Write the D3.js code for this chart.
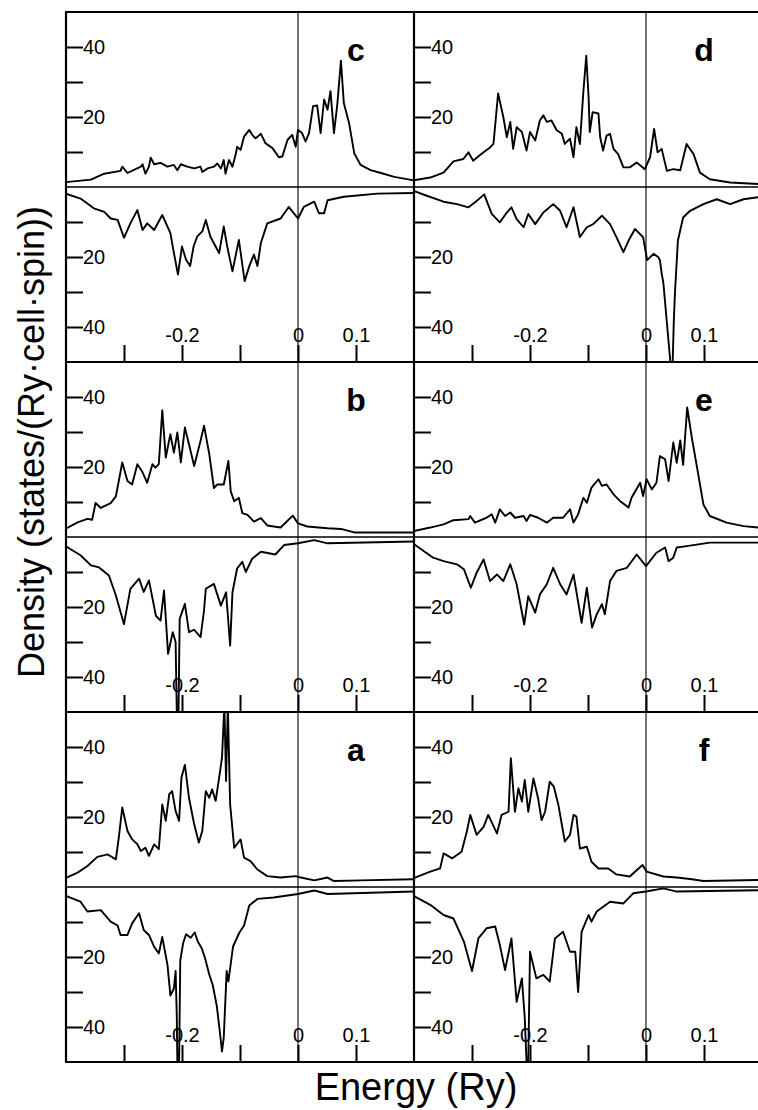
<!DOCTYPE html>
<html>
<head>
<meta charset="utf-8">
<script src="https://cdn.jsdelivr.net/npm/d3@7"></script>
<style>
  body { margin: 0; background: #fff; }
  svg { display: block; font-family: "Liberation Sans", Arial, Helvetica, sans-serif; }
</style>
</head>
<body>
<div id="chart"></div>
<script>
// Density of states, [energy (Ry), density]; spin up > 0, spin down < 0
const cUp = [[-0.400,1.4],[-0.357,2.1],[-0.334,3.8],[-0.306,4.6],[-0.303,5.8],[-0.294,4.0],[-0.271,5.8],[-0.268,6.5],[-0.263,3.8],[-0.257,5.8],[-0.254,8.4],[-0.248,6.5],[-0.237,6.9],[-0.225,5.8],[-0.214,6.3],[-0.208,4.8],[-0.202,6.5],[-0.191,5.8],[-0.179,5.3],[-0.168,5.8],[-0.165,4.3],[-0.156,5.3],[-0.145,5.8],[-0.139,6.7],[-0.133,5.3],[-0.128,7.7],[-0.125,3.8],[-0.119,7.7],[-0.113,5.8],[-0.107,9.6],[-0.105,11.5],[-0.099,10.6],[-0.093,14.4],[-0.084,16.3],[-0.079,14.9],[-0.073,13.9],[-0.064,15.2],[-0.056,12.5],[-0.044,11.1],[-0.033,8.5],[-0.027,8.7],[-0.018,13.5],[-0.010,14.9],[-0.004,11.5],[0.000,16.3],[0.007,15.4],[0.013,13.0],[0.019,15.4],[0.026,23.1],[0.033,23.3],[0.039,15.4],[0.045,25.0],[0.051,22.1],[0.056,27.4],[0.062,15.4],[0.068,24.0],[0.074,36.1],[0.079,24.0],[0.088,18.3],[0.097,9.6],[0.108,6.3],[0.125,4.8],[0.143,4.0],[0.166,2.9],[0.200,1.9]];
const cDown = [[-0.400,-1.9],[-0.375,-3.3],[-0.352,-6.1],[-0.334,-7.1],[-0.323,-9.0],[-0.311,-9.4],[-0.300,-14.5],[-0.289,-10.4],[-0.277,-6.6],[-0.268,-12.3],[-0.260,-10.4],[-0.248,-12.3],[-0.234,-8.0],[-0.220,-13.2],[-0.215,-17.9],[-0.207,-25.0],[-0.200,-17.0],[-0.193,-20.8],[-0.186,-22.6],[-0.180,-17.0],[-0.174,-14.2],[-0.165,-12.7],[-0.159,-9.4],[-0.151,-14.2],[-0.142,-17.0],[-0.136,-18.9],[-0.128,-11.3],[-0.122,-17.0],[-0.113,-24.1],[-0.102,-15.1],[-0.092,-26.9],[-0.084,-22.6],[-0.076,-19.3],[-0.070,-22.6],[-0.064,-16.0],[-0.053,-10.4],[-0.030,-9.0],[-0.016,-5.7],[0.000,-9.0],[0.010,-5.7],[0.028,-4.2],[0.036,-7.5],[0.045,-7.5],[0.051,-3.8],[0.079,-2.8],[0.137,-1.9],[0.200,-1.7]];

const dUp = [[-0.401,1.9],[-0.372,2.7],[-0.349,4.1],[-0.332,7.3],[-0.315,8.0],[-0.306,9.9],[-0.298,7.5],[-0.284,9.4],[-0.269,11.3],[-0.263,12.3],[-0.255,26.7],[-0.246,20.0],[-0.240,14.2],[-0.234,18.6],[-0.229,10.9],[-0.223,17.1],[-0.214,15.7],[-0.206,10.4],[-0.200,15.7],[-0.191,13.3],[-0.183,19.0],[-0.177,20.5],[-0.171,18.6],[-0.163,19.0],[-0.154,16.2],[-0.145,15.2],[-0.140,12.3],[-0.131,13.8],[-0.125,8.5],[-0.120,17.1],[-0.114,12.3],[-0.108,27.2],[-0.103,37.5],[-0.099,25.8],[-0.097,15.7],[-0.092,21.4],[-0.082,21.0],[-0.079,14.2],[-0.074,10.4],[-0.068,14.7],[-0.062,15.2],[-0.056,10.9],[-0.048,9.4],[-0.039,5.6],[-0.028,5.6],[-0.016,7.0],[-0.002,5.1],[0.007,8.5],[0.014,16.6],[0.020,9.9],[0.027,10.9],[0.036,4.6],[0.047,5.1],[0.059,4.8],[0.070,12.3],[0.082,9.4],[0.093,4.1],[0.110,2.2],[0.145,1.3],[0.200,0.8]];
const dDown = [[-0.401,-1.1],[-0.378,-2.5],[-0.349,-4.2],[-0.326,-4.9],[-0.306,-5.8],[-0.292,-4.0],[-0.279,-2.1],[-0.266,-7.7],[-0.252,-10.1],[-0.240,-7.3],[-0.232,-5.8],[-0.223,-9.2],[-0.211,-11.5],[-0.203,-7.7],[-0.191,-10.6],[-0.177,-7.3],[-0.160,-4.9],[-0.148,-6.8],[-0.137,-11.5],[-0.125,-5.8],[-0.114,-14.3],[-0.102,-11.5],[-0.091,-10.6],[-0.076,-8.2],[-0.062,-10.6],[-0.051,-14.3],[-0.039,-18.6],[-0.030,-15.3],[-0.019,-12.0],[-0.005,-14.3],[0.002,-20.9],[0.013,-19.1],[0.021,-20.0],[0.024,-20.9],[0.027,-24.7],[0.030,-27.5],[0.042,-50],[0.046,-50],[0.048,-38],[0.050,-30],[0.055,-15.3],[0.064,-8.7],[0.076,-6.8],[0.099,-4.9],[0.122,-3.5],[0.145,-4.9],[0.168,-3.5],[0.200,-2.8]];

const bUp = [[-0.399,2.5],[-0.380,4.2],[-0.363,5.2],[-0.355,4.9],[-0.349,9.7],[-0.340,8.3],[-0.323,9.7],[-0.314,11.6],[-0.309,16.0],[-0.303,21.3],[-0.294,16.0],[-0.286,15.0],[-0.277,20.8],[-0.269,18.8],[-0.260,15.5],[-0.251,20.8],[-0.246,19.8],[-0.240,20.8],[-0.234,36.2],[-0.228,22.7],[-0.220,29.4],[-0.214,24.1],[-0.208,29.9],[-0.202,21.3],[-0.195,31.3],[-0.188,26.5],[-0.179,20.3],[-0.168,27.5],[-0.162,31.8],[-0.153,23.7],[-0.145,14.0],[-0.139,15.0],[-0.128,15.0],[-0.120,21.7],[-0.116,13.1],[-0.110,10.2],[-0.102,11.2],[-0.096,6.8],[-0.087,6.3],[-0.076,4.4],[-0.064,5.4],[-0.053,3.3],[-0.030,2.7],[-0.009,6.1],[0.000,3.9],[0.016,3.0],[0.051,2.5],[0.074,2.3],[0.097,1.3],[0.166,1.3],[0.200,1.3]];
const bDown = [[-0.399,-2.8],[-0.375,-5.2],[-0.357,-8.1],[-0.343,-8.7],[-0.326,-11.0],[-0.314,-16.7],[-0.300,-24.9],[-0.289,-14.8],[-0.274,-11.9],[-0.266,-15.7],[-0.257,-12.4],[-0.245,-22.5],[-0.237,-23.9],[-0.231,-15.3],[-0.224,-33.4],[-0.216,-27.2],[-0.211,-30.0],[-0.209,-50],[-0.206,-50],[-0.204,-23.4],[-0.195,-19.1],[-0.188,-27.2],[-0.179,-26.5],[-0.168,-28.6],[-0.162,-21.0],[-0.159,-14.8],[-0.145,-13.4],[-0.133,-19.6],[-0.124,-15.8],[-0.117,-31.0],[-0.113,-15.8],[-0.105,-9.0],[-0.096,-7.1],[-0.090,-10.0],[-0.079,-6.2],[-0.064,-4.2],[-0.039,-5.0],[-0.024,-2.3],[0.000,-1.8],[0.028,-0.9],[0.051,-1.8],[0.200,-1.3]];

const eUp = [[-0.401,1.7],[-0.372,2.7],[-0.349,3.6],[-0.332,4.8],[-0.306,5.1],[-0.303,6.0],[-0.295,4.1],[-0.275,5.5],[-0.266,6.5],[-0.260,4.1],[-0.252,7.9],[-0.243,6.0],[-0.234,7.0],[-0.226,5.5],[-0.211,6.0],[-0.206,4.6],[-0.200,6.3],[-0.186,5.5],[-0.171,4.1],[-0.160,5.5],[-0.143,5.5],[-0.131,7.9],[-0.125,4.1],[-0.117,6.5],[-0.108,11.2],[-0.102,9.8],[-0.094,14.1],[-0.082,16.5],[-0.076,14.6],[-0.068,15.0],[-0.056,12.2],[-0.045,10.3],[-0.030,8.4],[-0.025,11.2],[-0.010,15.5],[-0.005,11.7],[0.001,16.5],[0.010,13.6],[0.018,15.5],[0.024,23.1],[0.033,22.2],[0.039,16.0],[0.047,27.0],[0.053,21.2],[0.059,27.6],[0.064,20.6],[0.071,37.0],[0.079,28.4],[0.087,20.8],[0.099,9.3],[0.110,6.0],[0.139,4.1],[0.168,3.1],[0.200,2.6]];
const eDown = [[-0.401,-1.9],[-0.367,-5.9],[-0.349,-6.9],[-0.326,-7.8],[-0.314,-9.2],[-0.302,-14.5],[-0.292,-10.2],[-0.280,-6.4],[-0.269,-12.6],[-0.257,-10.7],[-0.246,-12.6],[-0.234,-7.8],[-0.223,-13.5],[-0.210,-25.0],[-0.203,-16.9],[-0.191,-21.6],[-0.183,-16.4],[-0.171,-13.5],[-0.160,-8.8],[-0.148,-13.5],[-0.137,-16.4],[-0.125,-10.7],[-0.111,-24.5],[-0.102,-14.5],[-0.093,-25.9],[-0.085,-22.1],[-0.076,-19.2],[-0.071,-22.1],[-0.062,-12.6],[-0.051,-9.7],[-0.033,-8.8],[-0.016,-5.0],[0.000,-8.3],[0.018,-4.5],[0.033,-3.0],[0.039,-6.9],[0.047,-5.9],[0.053,-3.0],[0.070,-2.6],[0.110,-1.6],[0.200,-1.6]];

const aUp = [[-0.399,2.7],[-0.380,4.1],[-0.363,6.0],[-0.346,8.6],[-0.328,9.3],[-0.314,7.9],[-0.309,14.1],[-0.303,22.7],[-0.294,16.0],[-0.286,13.6],[-0.277,12.2],[-0.271,10.3],[-0.263,11.2],[-0.257,8.9],[-0.248,12.2],[-0.240,10.8],[-0.234,23.6],[-0.228,18.9],[-0.222,26.5],[-0.217,27.4],[-0.211,21.7],[-0.205,18.9],[-0.201,31.2],[-0.195,34.9],[-0.188,25.5],[-0.179,17.9],[-0.171,12.7],[-0.165,16.0],[-0.159,27.4],[-0.153,25.5],[-0.148,27.9],[-0.142,24.6],[-0.136,31.2],[-0.131,37.0],[-0.127,52],[-0.124,30.3],[-0.121,52],[-0.117,23.6],[-0.110,11.2],[-0.099,13.6],[-0.093,8.4],[-0.082,7.4],[-0.070,5.0],[-0.053,3.1],[-0.030,2.7],[-0.004,3.1],[0.005,2.7],[0.028,1.9],[0.051,2.7],[0.062,1.7],[0.108,1.9],[0.200,2.2]];
const aDown = [[-0.399,-2.6],[-0.375,-4.2],[-0.363,-7.0],[-0.340,-6.6],[-0.323,-9.9],[-0.311,-11.0],[-0.306,-13.7],[-0.294,-13.7],[-0.286,-10.4],[-0.274,-7.5],[-0.266,-12.3],[-0.257,-13.7],[-0.248,-17.1],[-0.240,-19.0],[-0.234,-14.3],[-0.225,-22.3],[-0.220,-31.0],[-0.214,-29.0],[-0.211,-24.0],[-0.209,-37],[-0.208,-50],[-0.205,-50],[-0.203,-21],[-0.198,-16],[-0.193,-13.5],[-0.185,-14.5],[-0.178,-13],[-0.173,-15.5],[-0.166,-17.5],[-0.160,-20.5],[-0.153,-25],[-0.147,-28],[-0.140,-34],[-0.135,-41],[-0.131,-47],[-0.128,-43],[-0.123,-24],[-0.120,-27],[-0.116,-22],[-0.112,-17],[-0.101,-13],[-0.093,-11],[-0.084,-5.3],[-0.070,-3.4],[-0.042,-3.0],[0.000,-2.0],[0.028,-1.0],[0.051,-2.0],[0.200,-1.3]];

const fUp = [[-0.401,2.5],[-0.372,4.4],[-0.355,5.3],[-0.349,9.6],[-0.334,8.2],[-0.318,10.1],[-0.309,15.8],[-0.303,20.6],[-0.292,14.9],[-0.280,17.2],[-0.272,20.6],[-0.257,15.3],[-0.249,20.6],[-0.237,21.5],[-0.233,36.8],[-0.226,21.5],[-0.220,28.2],[-0.214,24.4],[-0.209,30.6],[-0.203,21.5],[-0.194,31.0],[-0.186,25.3],[-0.180,19.1],[-0.174,21.5],[-0.166,30.1],[-0.159,28.7],[-0.151,23.4],[-0.140,13.0],[-0.131,14.9],[-0.125,20.6],[-0.120,20.1],[-0.114,11.0],[-0.102,11.5],[-0.094,7.2],[-0.082,5.3],[-0.065,5.3],[-0.051,3.6],[-0.028,3.0],[-0.006,6.3],[0.001,4.4],[0.030,3.0],[0.053,2.7],[0.076,2.3],[0.099,1.7],[0.200,2.0]];
const fDown = [[-0.401,-2.5],[-0.372,-5.1],[-0.349,-8.0],[-0.332,-9.0],[-0.314,-15.6],[-0.300,-24.0],[-0.289,-14.7],[-0.275,-11.8],[-0.260,-11.3],[-0.252,-16.6],[-0.243,-23.7],[-0.232,-14.7],[-0.223,-32.8],[-0.214,-26.1],[-0.209,-37.5],[-0.206,-50],[-0.203,-50],[-0.200,-18.5],[-0.189,-26.1],[-0.177,-25.1],[-0.166,-27.0],[-0.157,-14.7],[-0.143,-12.8],[-0.131,-18.5],[-0.122,-18.5],[-0.117,-30.0],[-0.111,-12.8],[-0.099,-8.0],[-0.094,-9.9],[-0.085,-7.0],[-0.062,-4.2],[-0.039,-4.7],[-0.022,-1.8],[0.000,-1.3],[0.030,-0.4],[0.053,-1.3],[0.200,-0.9]];

// axis ticks and labels
const energyDomain = [-0.4, 0.2];
const densityDomain = [-50, 50];
const xTickValues = [-0.3, -0.2, -0.1, 0, 0.1];
const xTickLabels = ['', '-0.2', '', '0', '0.1'];
const yTickValues = [-40, -30, -20, -10, 10, 20, 30, 40];
const yTickLabels = ['40', '', '20', '', '', '20', '', '40'];

// panel letter, column, row (top to bottom)
const panelLetters = ['c', 'd', 'b', 'e', 'a', 'f'];
const panelCols = [0, 1, 0, 1, 0, 1];
const panelRows = [0, 0, 1, 1, 2, 2];
const panelData = [[cUp, cDown], [dUp, dDown], [bUp, bDown], [eUp, eDown], [aUp, aDown], [fUp, fDown]];

const W = 758, H = 1110;
const colX = [66, 414], panelW = 348;
const rowY = [12, 362, 712], panelH = 350;

const svg = d3.select('#chart').append('svg')
  .attr('width', W)
  .attr('height', H);

const defs = svg.append('defs');

panelLetters.forEach((letter, i) => {
  const x0 = colX[panelCols[i]];
  const y0 = rowY[panelRows[i]];

  const x = d3.scaleLinear().domain(energyDomain).range([x0, x0 + panelW]);
  const y = d3.scaleLinear().domain(densityDomain).range([y0 + panelH, y0]);

  defs.append('clipPath').attr('id', 'clip-' + letter)
    .append('rect')
    .attr('x', x0).attr('y', y0)
    .attr('width', panelW).attr('height', panelH);

  const g = svg.append('g').attr('class', 'panel-' + letter);

  // Fermi level and zero line
  g.append('line')
    .attr('x1', x(0)).attr('x2', x(0))
    .attr('y1', y0).attr('y2', y0 + panelH)
    .attr('stroke', '#000').attr('stroke-width', 1.1);
  g.append('line')
    .attr('x1', x0).attr('x2', x0 + panelW)
    .attr('y1', y(0)).attr('y2', y(0))
    .attr('stroke', '#000').attr('stroke-width', 1.5);

  // y axis, ticks pointing in
  const yAxis = d3.axisRight(y)
    .tickValues(yTickValues)
    .tickSize(17)
    .tickPadding(0)
    .tickFormat((d, k) => yTickLabels[k]);
  const ya = g.append('g').attr('transform', `translate(${x0},0)`).call(yAxis);
  ya.select('.domain').remove();
  ya.selectAll('line').attr('stroke-width', 2);
  ya.selectAll('text').attr('font-size', 20).attr('fill', '#000').attr('font-family', null);

  // x axis on the bottom edge, ticks pointing up
  const xAxis = d3.axisTop(x)
    .tickValues(xTickValues)
    .tickSize(17)
    .tickPadding(3)
    .tickFormat((d, k) => xTickLabels[k]);
  const xa = g.append('g').attr('transform', `translate(0,${y0 + panelH})`).call(xAxis);
  xa.select('.domain').remove();
  xa.selectAll('line').attr('stroke-width', 2);
  xa.selectAll('text').attr('font-size', 20).attr('fill', '#000').attr('font-family', null);

  // density curves
  const line = d3.line().x(d => x(d[0])).y(d => y(d[1]));
  const curves = g.append('g').attr('clip-path', `url(#clip-${letter})`);
  panelData[i].forEach(series => {
    curves.append('path')
      .datum(series)
      .attr('d', line)
      .attr('fill', 'none')
      .attr('stroke', '#000')
      .attr('stroke-width', 1.9)
      .attr('stroke-linejoin', 'round');
  });

  // panel letter
  g.append('text')
    .attr('x', x(0.1))
    .attr('y', y0 + 49)
    .attr('text-anchor', 'middle')
    .attr('font-size', 32)
    .attr('font-weight', 'bold')
    .text(letter);
});

// frame
const frame = svg.append('g').attr('stroke', '#000').attr('stroke-width', 2.2);
[rowY[0], rowY[1], rowY[2], rowY[2] + panelH].forEach(yy => {
  frame.append('line').attr('x1', colX[0] - 1).attr('x2', W).attr('y1', yy).attr('y2', yy);
});
[colX[0], colX[1]].forEach(xx => {
  frame.append('line').attr('x1', xx).attr('x2', xx).attr('y1', rowY[0]).attr('y2', rowY[2] + panelH);
});

// axis titles
svg.append('text')
  .attr('x', 416)
  .attr('y', 1100)
  .attr('text-anchor', 'middle')
  .attr('font-size', 38)
  .text('Energy (Ry)');

svg.append('text')
  .attr('transform', 'translate(44,442) rotate(-90)')
  .attr('text-anchor', 'middle')
  .attr('font-size', 36)
  .text('Density (states/(Ry\u00b7cell\u00b7spin))');
</script>
</body>
</html>
